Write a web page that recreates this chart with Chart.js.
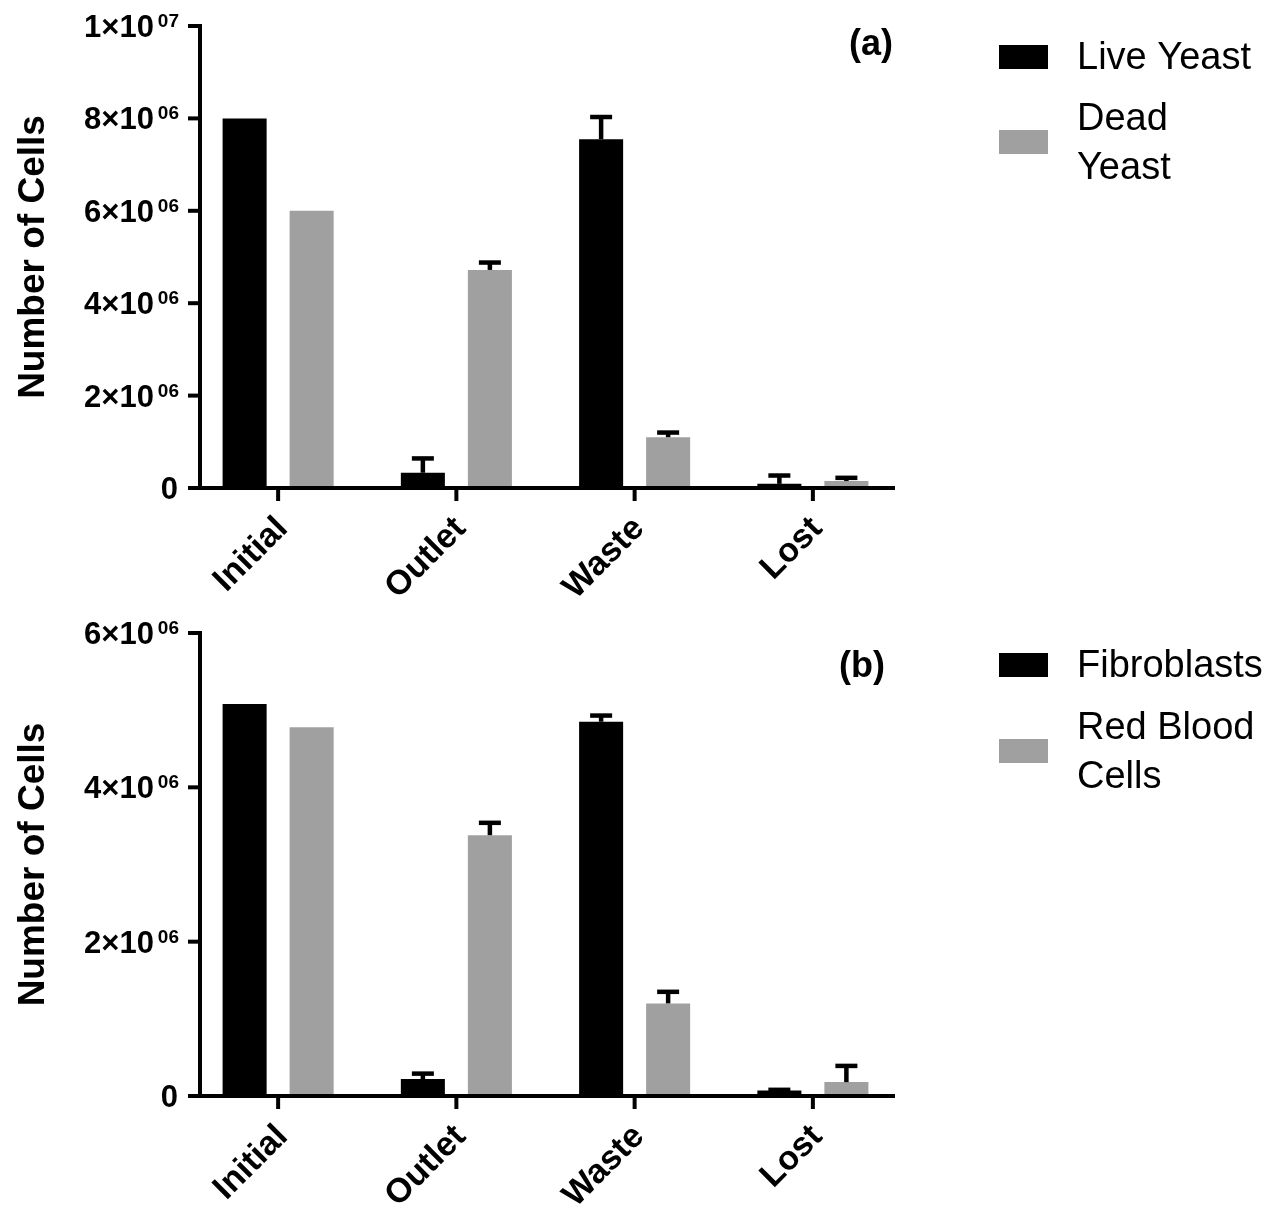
<!DOCTYPE html>
<html>
<head>
<meta charset="utf-8">
<script src="https://cdn.jsdelivr.net/npm/chart.js@4.4.1/dist/chart.umd.min.js"></script>
<style>
body { margin: 0; background: #fff; }
canvas { display: block; }
</style>
</head>
<body>
<canvas id="chartA" width="1273" height="605"></canvas>
<canvas id="chartB" width="1273" height="606"></canvas>
<script>
const categories = ['Initial', 'Outlet', 'Waste', 'Lost'];

// panel (a)
const liveYeast = [8.0e6, 0.33e6, 7.55e6, 0.09e6];
const liveYeastErr = [0, 0.31e6, 0.48e6, 0.18e6];
const deadYeast = [6.0e6, 4.72e6, 1.1e6, 0.15e6];
const deadYeastErr = [0, 0.16e6, 0.1e6, 0.07e6];
const ticksA = [0, 2e6, 4e6, 6e6, 8e6, 1e7];

// panel (b)
const fibroblasts = [5.08e6, 0.22e6, 4.85e6, 0.07e6];
const fibroblastsErr = [0, 0.07e6, 0.08e6, 0.01e6];
const redBloodCells = [4.78e6, 3.38e6, 1.2e6, 0.18e6];
const redBloodCellsErr = [0, 0.16e6, 0.15e6, 0.21e6];
const ticksB = [0, 2e6, 4e6, 6e6];

const FONT = 'Arial, "Liberation Sans", sans-serif';

function splitTick(v) {
	if (v === 0) return ['0', ''];
	const exp = Math.floor(Math.log10(v));
	const mant = Math.round(v / Math.pow(10, exp));
	return [mant + '\u00D710', String(exp).padStart(2, '0')];
}

const prismPlugin = {
	id: 'prism',
	afterDatasetsDraw(chart, args, opts) {
		const ctx = chart.ctx;
		const x = chart.scales.x;
		const y = chart.scales.y;
		const area = chart.chartArea;
		const axisX = area.left + 11;
		const zeroY = y.getPixelForValue(0);

		ctx.save();
		ctx.strokeStyle = '#000';
		ctx.fillStyle = '#000';
		ctx.lineCap = 'butt';

		// error bars (upper only)
		ctx.lineWidth = 4.5;
		chart.data.datasets.forEach((ds, i) => {
			const meta = chart.getDatasetMeta(i);
			meta.data.forEach((bar, j) => {
				const e = ds.errors[j];
				if (!e) return;
				const top = y.getPixelForValue(ds.data[j] + e);
				ctx.beginPath();
				ctx.moveTo(bar.x, bar.y);
				ctx.lineTo(bar.x, top);
				ctx.stroke();
				ctx.beginPath();
				ctx.moveTo(bar.x - 11, top);
				ctx.lineTo(bar.x + 11, top);
				ctx.stroke();
			});
		});

		// axes
		ctx.lineWidth = 4;
		ctx.beginPath();
		ctx.moveTo(axisX, y.getPixelForValue(y.max) - 2);
		ctx.lineTo(axisX, zeroY + 2);
		ctx.stroke();
		ctx.beginPath();
		ctx.moveTo(axisX - 12, zeroY);
		ctx.lineTo(area.right - 7, zeroY);
		ctx.stroke();

		// y ticks + labels (mantissa x 10 with superscript exponent)
		ctx.textBaseline = 'alphabetic';
		ctx.textAlign = 'right';
		opts.ticks.forEach(v => {
			const py = y.getPixelForValue(v);
			ctx.beginPath();
			ctx.moveTo(axisX - 12, py);
			ctx.lineTo(axisX, py);
			ctx.stroke();
			const parts = splitTick(v);
			const right = axisX - 22;
			if (parts[1]) {
				ctx.font = 'bold 19px ' + FONT;
				ctx.fillText(parts[1], right + 1, py + 1);
				const w = ctx.measureText(parts[1]).width;
				ctx.font = 'bold 31px ' + FONT;
				ctx.fillText(parts[0], right - w - 3, py + 11);
			} else {
				ctx.font = 'bold 31px ' + FONT;
				ctx.fillText(parts[0], right, py + 11);
			}
		});

		// x ticks + rotated labels
		x.ticks.forEach((t, i) => {
			const px = x.getPixelForTick(i);
			ctx.beginPath();
			ctx.moveTo(px, zeroY);
			ctx.lineTo(px, zeroY + 13);
			ctx.stroke();
			ctx.save();
			ctx.translate(px + 11, zeroY + 42);
			ctx.rotate(-Math.PI / 4);
			ctx.font = 'bold 34px ' + FONT;
			ctx.textAlign = 'right';
			ctx.textBaseline = 'alphabetic';
			ctx.fillText(chart.data.labels[i], 0, 0);
			ctx.restore();
		});

		// y axis title
		const midY = (y.getPixelForValue(y.max) + zeroY) / 2;
		ctx.save();
		ctx.translate(44, midY);
		ctx.rotate(-Math.PI / 2);
		ctx.font = 'bold 37px ' + FONT;
		ctx.textAlign = 'center';
		ctx.textBaseline = 'alphabetic';
		ctx.fillText('Number of Cells', 0, 0);
		ctx.restore();

		// panel label
		ctx.font = 'bold 36px ' + FONT;
		ctx.textAlign = 'right';
		ctx.textBaseline = 'middle';
		ctx.fillText(opts.panel, opts.panelX, opts.panelY);

		// legend
		ctx.font = '38px ' + FONT;
		ctx.textAlign = 'left';
		chart.data.datasets.forEach((ds, i) => {
			const cy = opts.legendY[i];
			ctx.fillStyle = ds.backgroundColor;
			ctx.fillRect(999, cy - 12, 49, 24);
			ctx.fillStyle = '#000';
			const lines = ds.legendLines;
			lines.forEach((line, k) => {
				const ly = cy + (k - (lines.length - 1) / 2) * 49;
				ctx.fillText(line, 1077, ly + 2);
			});
		});

		ctx.restore();
	}
};

function makePanel(id, series, yMax, ticks, pad, panel) {
	return new Chart(document.getElementById(id), {
		type: 'bar',
		data: {
			labels: categories,
			datasets: series.map(s => ({
				label: s.lines.join(' '),
				legendLines: s.lines,
				data: s.data,
				errors: s.err,
				backgroundColor: s.color,
				borderWidth: 0,
				barPercentage: 0.657,
				categoryPercentage: 0.752
			}))
		},
		options: {
			responsive: false,
			animation: false,
			devicePixelRatio: 1,
			layout: { padding: pad },
			plugins: {
				legend: { display: false },
				tooltip: { enabled: false },
				prism: Object.assign({ ticks: ticks }, panel)
			},
			scales: {
				x: { display: false },
				y: { display: false, min: 0, max: yMax }
			}
		},
		plugins: [prismPlugin]
	});
}

makePanel('chartA', [
	{ lines: ['Live Yeast'], data: liveYeast, err: liveYeastErr, color: '#000000' },
	{ lines: ['Dead', 'Yeast'], data: deadYeast, err: deadYeastErr, color: '#a0a0a0' }
], 1e7, ticksA, { left: 189, right: 371, top: 26, bottom: 117 },
	{ panel: '(a)', panelX: 893, panelY: 45, legendY: [57, 142] });

makePanel('chartB', [
	{ lines: ['Fibroblasts'], data: fibroblasts, err: fibroblastsErr, color: '#000000' },
	{ lines: ['Red Blood', 'Cells'], data: redBloodCells, err: redBloodCellsErr, color: '#a0a0a0' }
], 6e6, ticksB, { left: 189, right: 371, top: 28, bottom: 115 },
	{ panel: '(b)', panelX: 885, panelY: 62, legendY: [60, 146] });
</script>
</body>
</html>
